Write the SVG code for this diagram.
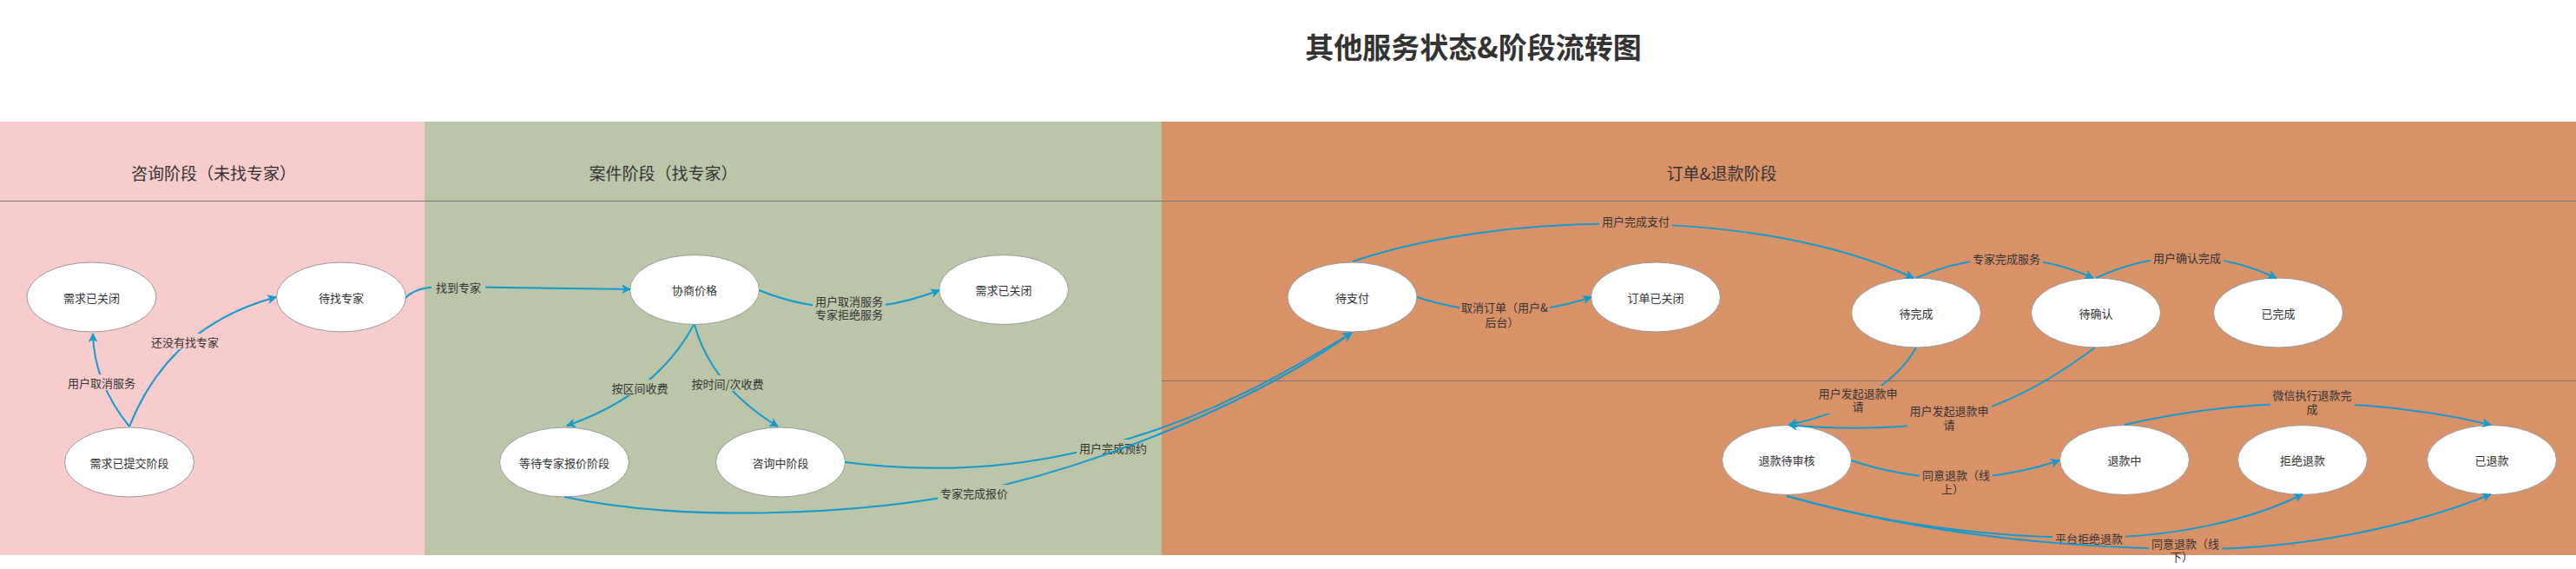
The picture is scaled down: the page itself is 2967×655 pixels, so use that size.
<svg xmlns="http://www.w3.org/2000/svg" width="2967" height="655" viewBox="0 0 2967 655">
<style>
.t{font-family:"Noto Sans CJK SC","Liberation Sans",sans-serif;fill:#333;text-anchor:middle;dominant-baseline:central}
.title{font-size:33px;font-weight:bold}
.lane{font-size:19px}
.n ellipse{fill:#fff;stroke:#999;stroke-width:1}
.n text,.lbl{font-size:13px}
.e{fill:none;stroke:#139ACD;stroke-width:2;marker-end:url(#arr)}
.pk{fill:#F8CBCC}.gr{fill:#BBC5A8}.or{fill:#D99268}
.sep{stroke:#777;stroke-width:1}
</style>
<defs>
<marker id="arr" markerUnits="userSpaceOnUse" markerWidth="12" markerHeight="12" viewBox="0 0 12 12" refX="10" refY="6" orient="auto"><path d="M0,0.5 L11,6 L0,11.5 L3,6 z" fill="#139ACD"/></marker>
</defs>
<rect width="2967" height="655" fill="#fff"/>
<text class="t title" x="1697" y="53">其他服务状态&amp;阶段流转图</text>
<g id="lanes">
<rect class="pk" x="0" y="140" width="489" height="499"/>
<rect class="gr" x="489" y="140" width="849" height="499"/>
<rect class="or" x="1338" y="140" width="1629" height="499"/>
<line class="sep" x1="0" y1="231.5" x2="2967" y2="231.5"/>
<line class="sep" x1="1338" y1="438.5" x2="2967" y2="438.5"/>
<text class="t lane" x="246" y="198">咨询阶段（未找专家）</text>
<text class="t lane" x="764" y="198">案件阶段（找专家）</text>
<text class="t lane" x="1983" y="198">订单&amp;退款阶段</text>
</g>
<g id="n1" class="n"><ellipse cx="105.5" cy="342" rx="74.5" ry="40"/><text class="t" x="105.5" y="342">需求已关闭</text></g>
<g id="n2" class="n"><ellipse cx="393" cy="342" rx="74.5" ry="40"/><text class="t" x="393" y="342">待找专家</text></g>
<g id="n3" class="n"><ellipse cx="149" cy="532" rx="74.5" ry="40"/><text class="t" x="149" y="532">需求已提交阶段</text></g>
<g id="n4" class="n"><ellipse cx="800" cy="333.5" rx="74.5" ry="40"/><text class="t" x="800" y="333.5">协商价格</text></g>
<g id="n5" class="n"><ellipse cx="650" cy="532" rx="74.5" ry="40"/><text class="t" x="650" y="532">等待专家报价阶段</text></g>
<g id="n6" class="n"><ellipse cx="899" cy="532" rx="74.5" ry="40"/><text class="t" x="899" y="532">咨询中阶段</text></g>
<g id="n7" class="n"><ellipse cx="1156" cy="333.5" rx="74.5" ry="40"/><text class="t" x="1156" y="333.5">需求已关闭</text></g>
<g id="n8" class="n"><ellipse cx="1557.5" cy="342" rx="74.5" ry="40"/><text class="t" x="1557.5" y="342">待支付</text></g>
<g id="n9" class="n"><ellipse cx="1907" cy="342" rx="74.5" ry="40"/><text class="t" x="1907" y="342">订单已关闭</text></g>
<g id="n10" class="n"><ellipse cx="2207" cy="360" rx="74.5" ry="40"/><text class="t" x="2207" y="360">待完成</text></g>
<g id="n11" class="n"><ellipse cx="2414" cy="360" rx="74.5" ry="40"/><text class="t" x="2414" y="360">待确认</text></g>
<g id="n12" class="n"><ellipse cx="2624" cy="360" rx="74.5" ry="40"/><text class="t" x="2624" y="360">已完成</text></g>
<g id="n13" class="n"><ellipse cx="2058" cy="529.5" rx="74.5" ry="40"/><text class="t" x="2058" y="529.5">退款待审核</text></g>
<g id="n14" class="n"><ellipse cx="2447" cy="529.5" rx="74.5" ry="40"/><text class="t" x="2447" y="529.5">退款中</text></g>
<g id="n15" class="n"><ellipse cx="2652" cy="529.5" rx="74.5" ry="40"/><text class="t" x="2652" y="529.5">拒绝退款</text></g>
<g id="n16" class="n"><ellipse cx="2870" cy="529.5" rx="74.5" ry="40"/><text class="t" x="2870" y="529.5">已退款</text></g>
<g id="connectors">
<g><path class="e" d="M149,491 Q108,440 107,384"/><rect class="pk" x="75" y="431" width="84" height="18"/><text class="t lbl" x="117" y="440">用户取消服务</text></g>
<g><path class="e" d="M149,491 Q195,375 318,342"/><rect class="pk" x="171" y="384" width="84" height="18"/><text class="t lbl" x="213" y="393">还没有找专家</text></g>
<g><path class="e" d="M467,343 Q478,331 505,330 L726,333"/><rect class="gr" x="497" y="321" width="62" height="18"/><text class="t lbl" x="528" y="330">找到专家</text></g>
<g><path class="e" d="M799,374 Q755,455 653,490"/><rect class="gr" x="701" y="437" width="72" height="18"/><text class="t lbl" x="737" y="446">按区间收费</text></g>
<g><path class="e" d="M800,374 Q820,445 896,491"/><rect class="gr" x="794" y="432" width="88" height="18"/><text class="t lbl" x="838" y="441">按时间/次收费</text></g>
<g><path class="e" d="M874,334 Q975,375 1082,334"/><rect class="gr" x="936" y="337" width="84" height="33"/><text class="t lbl"><tspan x="978" y="346">用户取消服务</tspan><tspan x="978" y="361">专家拒绝服务</tspan></text></g>
<g><path class="e" d="M973,532 C1100,548 1200,535 1300,505 C1400,475 1480,430 1557,383"/><rect class="gr" x="1240" y="506" width="84" height="18"/><text class="t lbl" x="1282" y="515">用户完成预约</text></g>
<g><path class="e" d="M650,572 C780,600 980,595 1122,566 C1270,535 1450,460 1557,383"/><rect class="gr" x="1080" y="558" width="84" height="18"/><text class="t lbl" x="1122" y="567">专家完成报价</text></g>
<g><path class="e" d="M1632,342 Q1733,375 1833,342"/><rect class="or" x="1681" y="344" width="104" height="35"/><text class="t lbl"><tspan x="1733" y="353">取消订单（用户&amp;</tspan><tspan x="1730" y="370">后台）</tspan></text></g>
<g><path class="e" d="M1558,301 C1720,245 2020,235 2204,320"/><rect class="or" x="1842" y="245" width="84" height="18"/><text class="t lbl" x="1884" y="254">用户完成支付</text></g>
<g><path class="e" d="M2207,320 Q2310,275 2411,320"/><rect class="or" x="2269" y="288" width="84" height="18"/><text class="t lbl" x="2311" y="297">专家完成服务</text></g>
<g><path class="e" d="M2414,320 Q2518,272 2622,320"/><rect class="or" x="2477" y="287" width="84" height="18"/><text class="t lbl" x="2519" y="296">用户确认完成</text></g>
<g><path class="e" d="M2207,400 C2185,440 2130,475 2060,489"/><rect class="or" x="2092" y="444" width="97" height="32"/><text class="t lbl"><tspan x="2140" y="452">用户发起退款申</tspan><tspan x="2140" y="467">请</tspan></text></g>
<g><path class="e" d="M2413,400 C2340,455 2270,485 2190,491 C2130,495 2090,492 2060,489"/><rect class="or" x="2197" y="464" width="97" height="32"/><text class="t lbl"><tspan x="2245" y="472">用户发起退款申</tspan><tspan x="2245" y="488">请</tspan></text></g>
<g><path class="e" d="M2132,530 Q2252,570 2372,530"/><rect class="or" x="2211" y="538" width="84" height="32"/><text class="t lbl"><tspan x="2253" y="546">同意退款（线</tspan><tspan x="2249" y="562">上）</tspan></text></g>
<g><path class="e" d="M2447,489 Q2660,440 2869,489"/><rect class="or" x="2615" y="446" width="97" height="32"/><text class="t lbl"><tspan x="2663" y="454">微信执行退款完</tspan><tspan x="2663" y="470">成</tspan></text></g>
<g><path class="e" d="M2058,571 C2180,605 2300,619 2406,619 C2500,619 2590,600 2652,569"/><rect class="or" x="2364" y="611" width="84" height="15"/><text class="t lbl" x="2406" y="619">平台拒绝退款</text></g>
<g><path class="e" d="M2058,571 C2190,608 2340,630 2517,632 C2650,634 2780,605 2869,569"/><rect class="or" x="2475" y="617" width="84" height="22"/><text class="t lbl"><tspan x="2517" y="625">同意退款（线</tspan><tspan x="2513" y="640">下）</tspan></text></g>
</g>
</svg>
